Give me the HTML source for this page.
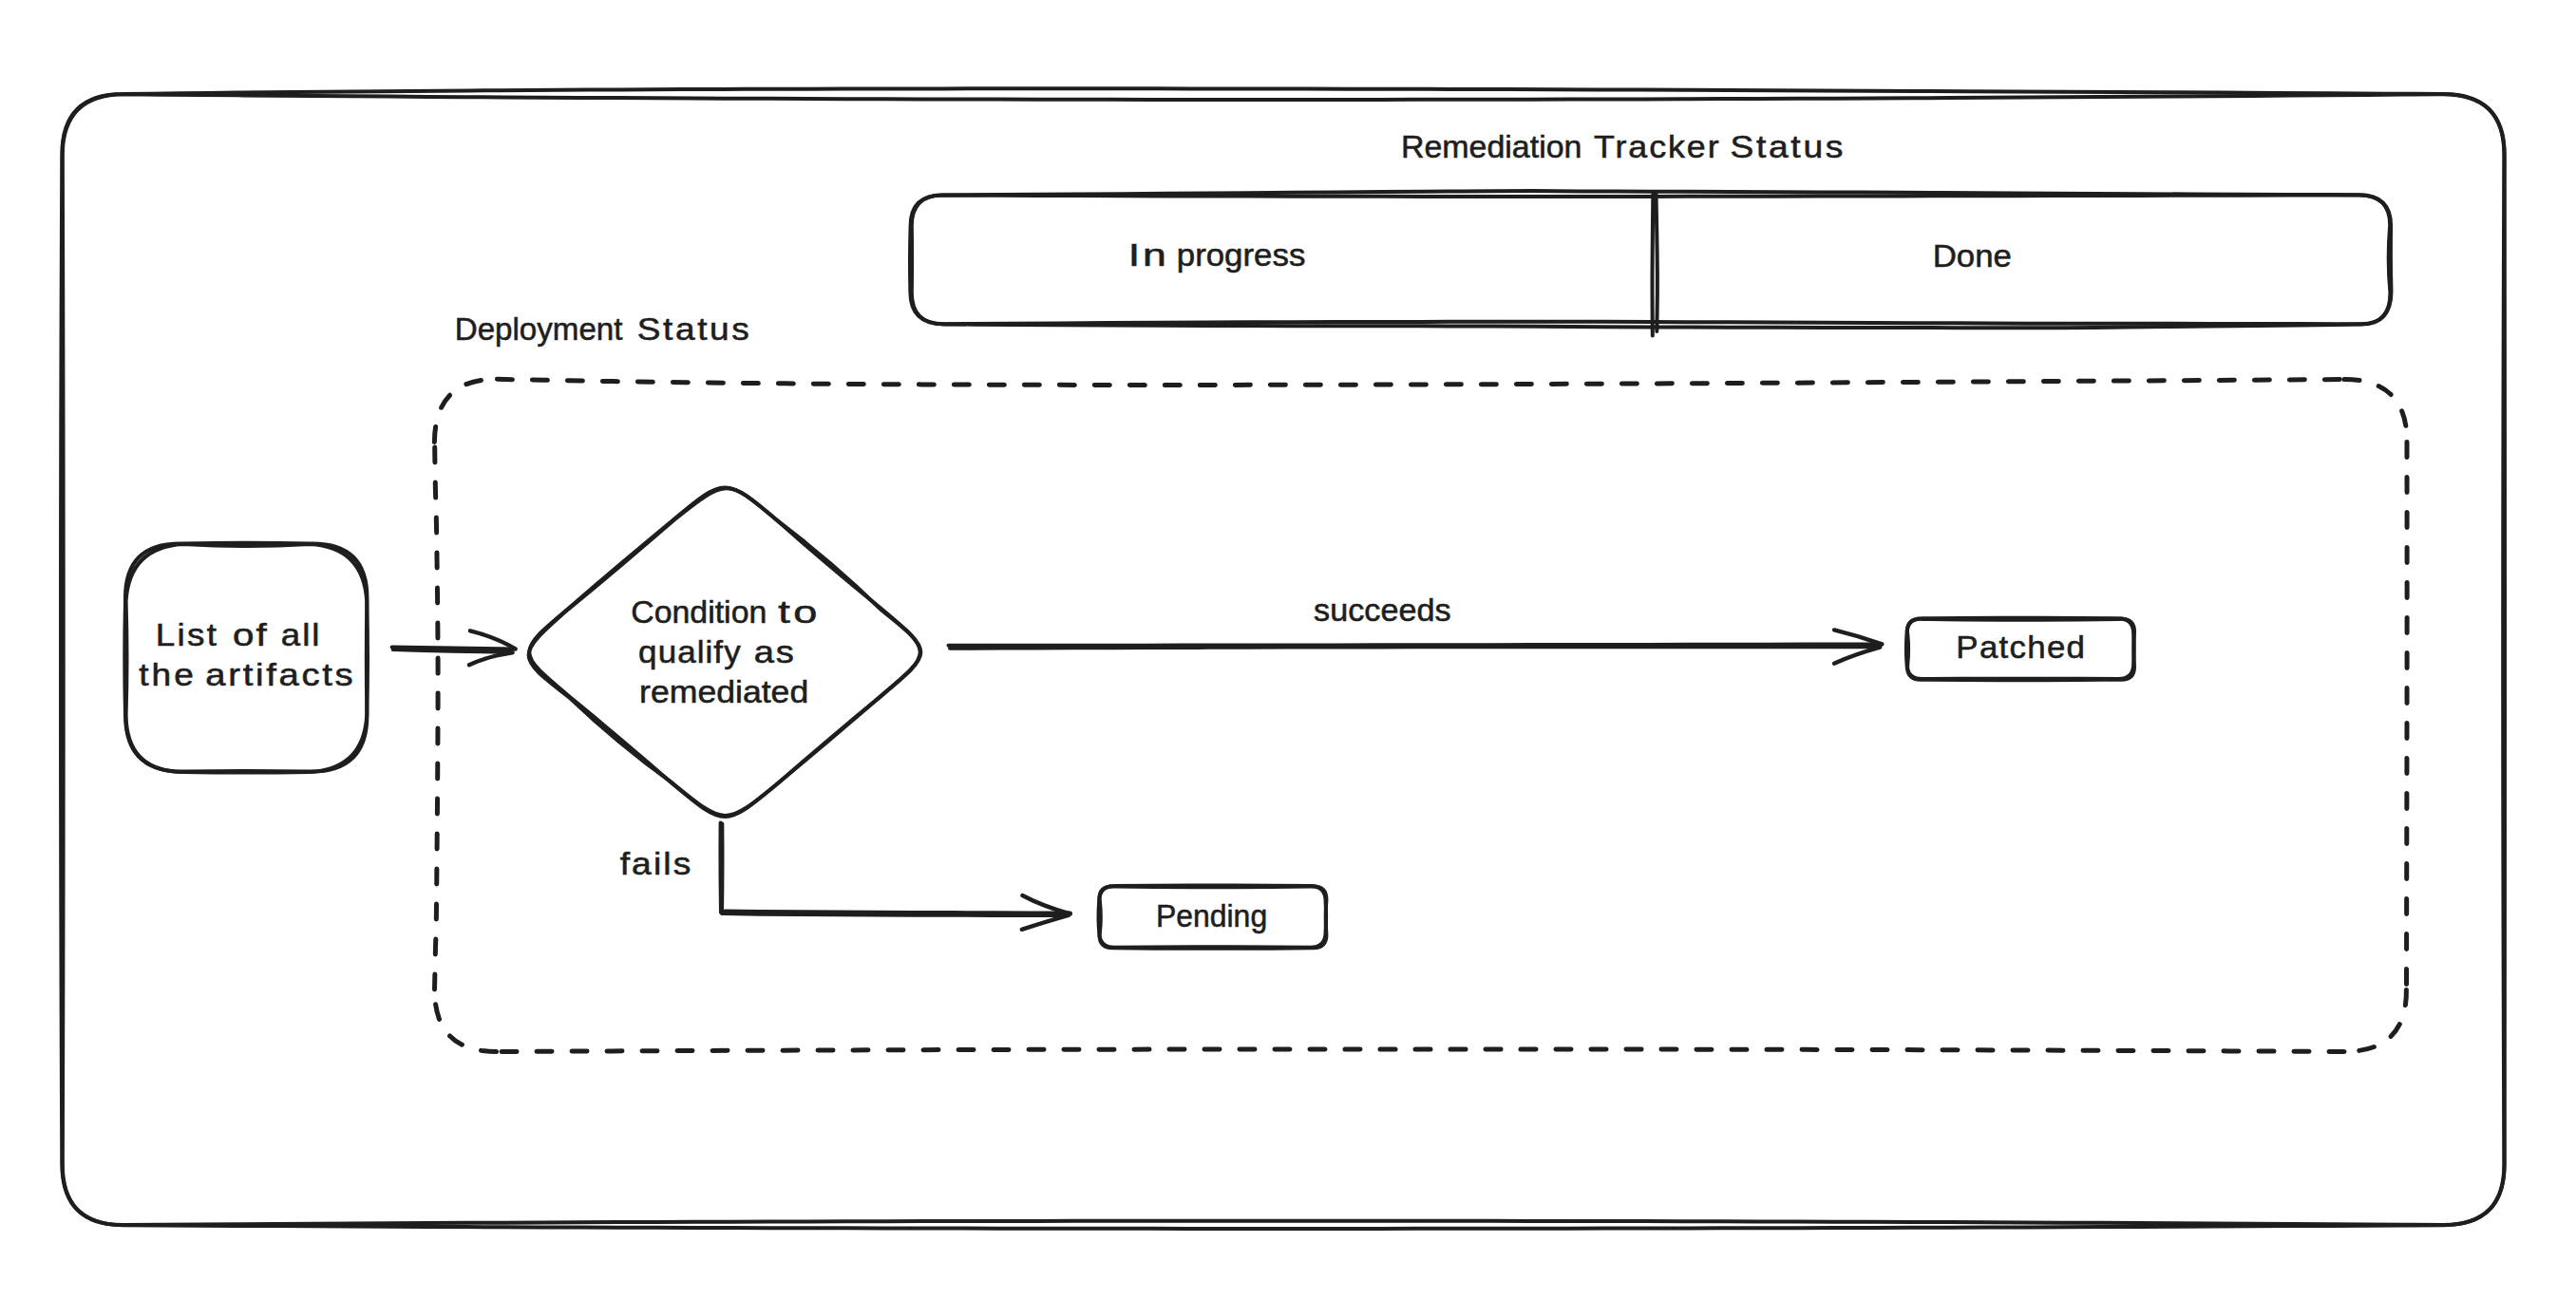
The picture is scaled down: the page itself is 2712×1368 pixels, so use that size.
<!DOCTYPE html>
<html lang="en">
<head>
<meta charset="utf-8">
<title>Remediation Tracker Status</title>
<style>
  html, body { margin: 0; padding: 0; background: #ffffff; }
  body { width: 2712px; height: 1368px; overflow: hidden; }
  svg { display: block; }
  .s { fill: none; stroke: #1e1e1e; stroke-width: 4; stroke-linecap: round; stroke-linejoin: round; }
  .h { fill: none; stroke: #1e1e1e; stroke-width: 4.4; stroke-linecap: round; stroke-linejoin: round; }
  .d { fill: none; stroke: #1e1e1e; stroke-width: 5; stroke-linecap: round; stroke-linejoin: round; stroke-dasharray: 16 21; }
  text { font-family: "Liberation Sans", sans-serif; font-size: 32.5px; fill: #1e1e1e; stroke: #1e1e1e; stroke-width: 0.55px; }
</style>
</head>
<body>
<svg width="2712" height="1368" viewBox="0 0 2712 1368" role="img" aria-label="Remediation tracker status flow diagram">
  <rect x="0" y="0" width="2712" height="1368" fill="#ffffff"/>
  <g id="frame">
    <path class="s" d="M129.5 99 L159.53 98.63 L189.57 98.28 L219.64 97.93 L249.76 97.6 L279.95 97.28 L310.22 96.98 L340.58 96.68 L371.05 96.4 L401.66 96.13 L432.41 95.88 L463.32 95.63 L494.4 95.4 L525.68 95.18 L557.18 94.97 L588.89 94.77 L620.85 94.59 L653.07 94.42 L685.56 94.26 L718.35 94.11 L751.44 93.98 L784.85 93.85 L818.6 93.74 L852.71 93.64 L887.19 93.56 L922.06 93.49 L957.33 93.42 L993.03 93.38 L1029.16 93.34 L1065.74 93.31 L1102.79 93.3 L1140.33 93.3 L1178.37 93.31 L1216.93 93.34 L1256.02 93.38 L1295.66 93.42 L1335.87 93.49 L1376.65 93.56 L1418.04 93.64 L1460.05 93.74 L1502.68 93.85 L1545.96 93.98 L1589.91 94.11 L1634.53 94.26 L1679.86 94.42 L1725.89 94.59 L1772.65 94.77 L1820.16 94.97 L1868.42 95.18 L1917.47 95.4 L1967.31 95.63 L2017.95 95.88 L2069.42 96.13 L2121.74 96.4 L2174.91 96.68 L2228.96 96.98 L2283.89 97.28 L2339.74 97.6 L2396.5 97.93 L2454.21 98.28 L2512.87 98.63 L2572.5 99 Q2636.5 99 2636.4 163 L2636.22 203.88 L2636.06 244.77 L2635.91 285.65 L2635.78 326.54 L2635.65 367.42 L2635.55 408.31 L2635.46 449.19 L2635.38 490.08 L2635.31 530.96 L2635.26 571.85 L2635.23 612.73 L2635.21 653.62 L2635.2 694.5 L2635.21 735.38 L2635.23 776.27 L2635.26 817.15 L2635.31 858.04 L2635.38 898.92 L2635.46 939.81 L2635.55 980.69 L2635.65 1021.58 L2635.78 1062.46 L2635.91 1103.35 L2636.06 1144.23 L2636.22 1185.12 L2636.4 1226 Q2636.5 1290 2572.5 1290 L2532.45 1289.72 L2492.4 1289.45 L2452.35 1289.2 L2412.3 1288.95 L2372.25 1288.71 L2332.2 1288.47 L2292.16 1288.25 L2252.11 1288.04 L2212.06 1287.84 L2172.01 1287.64 L2131.96 1287.46 L2091.91 1287.28 L2051.86 1287.12 L2011.81 1286.96 L1971.76 1286.81 L1931.71 1286.67 L1891.66 1286.54 L1851.61 1286.42 L1811.57 1286.31 L1771.52 1286.21 L1731.47 1286.12 L1691.42 1286.03 L1651.37 1285.96 L1611.32 1285.9 L1571.27 1285.84 L1531.22 1285.79 L1491.17 1285.76 L1451.12 1285.73 L1411.07 1285.71 L1371.02 1285.7 L1330.98 1285.7 L1290.93 1285.71 L1250.88 1285.73 L1210.83 1285.76 L1170.78 1285.79 L1130.73 1285.84 L1090.68 1285.9 L1050.63 1285.96 L1010.58 1286.03 L970.53 1286.12 L930.48 1286.21 L890.43 1286.31 L850.39 1286.42 L810.34 1286.54 L770.29 1286.67 L730.24 1286.81 L690.19 1286.96 L650.14 1287.12 L610.09 1287.28 L570.04 1287.46 L529.99 1287.64 L489.94 1287.84 L449.89 1288.04 L409.84 1288.25 L369.8 1288.47 L329.75 1288.71 L289.7 1288.95 L249.65 1289.2 L209.6 1289.45 L169.55 1289.72 L129.5 1290 Q65.5 1290 65.3 1226 L65.11 1185.12 L64.93 1144.23 L64.77 1103.35 L64.62 1062.46 L64.49 1021.58 L64.38 980.69 L64.28 939.81 L64.19 898.92 L64.12 858.04 L64.07 817.15 L64.03 776.27 L64.01 735.38 L64 694.5 L64.01 653.62 L64.03 612.73 L64.07 571.85 L64.12 530.96 L64.19 490.08 L64.28 449.19 L64.38 408.31 L64.49 367.42 L64.62 326.54 L64.77 285.65 L64.93 244.77 L65.11 203.88 L65.3 163 Q65.3 99 129.5 99"/>
    <path class="s" d="M130.5 99.3 L170.52 99.67 L210.53 100.02 L250.55 100.36 L290.57 100.69 L330.58 101.01 L370.6 101.31 L410.61 101.6 L450.63 101.88 L490.65 102.15 L530.66 102.41 L570.68 102.65 L610.7 102.88 L650.71 103.1 L690.73 103.31 L730.75 103.5 L770.76 103.69 L810.78 103.86 L850.8 104.01 L890.81 104.16 L930.83 104.29 L970.84 104.41 L1010.86 104.52 L1050.88 104.62 L1090.89 104.7 L1130.91 104.77 L1170.93 104.83 L1210.94 104.88 L1250.96 104.92 L1290.98 104.94 L1330.99 104.95 L1371.01 104.95 L1411.02 104.93 L1451.04 104.91 L1491.06 104.87 L1531.07 104.82 L1571.09 104.76 L1611.11 104.68 L1651.12 104.59 L1691.14 104.49 L1731.16 104.38 L1771.17 104.26 L1811.19 104.12 L1851.2 103.97 L1891.22 103.81 L1931.24 103.64 L1971.25 103.45 L2011.27 103.25 L2051.29 103.04 L2091.3 102.82 L2131.32 102.59 L2171.34 102.34 L2211.35 102.08 L2251.37 101.81 L2291.39 101.53 L2331.4 101.23 L2371.42 100.92 L2411.43 100.6 L2451.45 100.27 L2491.47 99.93 L2531.48 99.57 L2571.5 99.2 Q2636.9 99.4 2636.7 163 L2636.74 203.88 L2636.79 244.77 L2636.82 285.65 L2636.86 326.54 L2636.89 367.42 L2636.91 408.31 L2636.94 449.19 L2636.96 490.08 L2636.97 530.96 L2636.98 571.85 L2636.99 612.73 L2637 653.62 L2637 694.5 L2637 735.38 L2636.99 776.27 L2636.98 817.15 L2636.97 858.04 L2636.96 898.92 L2636.94 939.81 L2636.91 980.69 L2636.89 1021.58 L2636.86 1062.46 L2636.82 1103.35 L2636.79 1144.23 L2636.74 1185.12 L2636.7 1226 Q2636.8 1290.3 2572.5 1290.2 L2532.45 1290.44 L2492.4 1290.67 L2452.35 1290.89 L2412.3 1291.11 L2372.25 1291.31 L2332.2 1291.51 L2292.16 1291.7 L2252.11 1291.89 L2212.06 1292.06 L2172.01 1292.23 L2131.96 1292.39 L2091.91 1292.54 L2051.86 1292.68 L2011.81 1292.82 L1971.76 1292.94 L1931.71 1293.06 L1891.66 1293.18 L1851.61 1293.28 L1811.57 1293.37 L1771.52 1293.46 L1731.47 1293.54 L1691.42 1293.61 L1651.37 1293.68 L1611.32 1293.73 L1571.27 1293.78 L1531.22 1293.82 L1491.17 1293.85 L1451.12 1293.88 L1411.07 1293.89 L1371.02 1293.9 L1330.98 1293.9 L1290.93 1293.89 L1250.88 1293.88 L1210.83 1293.85 L1170.78 1293.82 L1130.73 1293.78 L1090.68 1293.73 L1050.63 1293.68 L1010.58 1293.61 L970.53 1293.54 L930.48 1293.46 L890.43 1293.37 L850.39 1293.28 L810.34 1293.18 L770.29 1293.06 L730.24 1292.94 L690.19 1292.82 L650.14 1292.68 L610.09 1292.54 L570.04 1292.39 L529.99 1292.23 L489.94 1292.06 L449.89 1291.89 L409.84 1291.7 L369.8 1291.51 L329.75 1291.31 L289.7 1291.11 L249.65 1290.89 L209.6 1290.67 L169.55 1290.44 L129.5 1290.2 Q65.7 1290.3 65.8 1226 L65.93 1185.12 L66.06 1144.23 L66.17 1103.35 L66.27 1062.46 L66.36 1021.58 L66.44 980.69 L66.51 939.81 L66.57 898.92 L66.61 858.04 L66.65 817.15 L66.68 776.27 L66.69 735.38 L66.7 694.5 L66.69 653.62 L66.68 612.73 L66.65 571.85 L66.61 530.96 L66.57 490.08 L66.51 449.19 L66.44 408.31 L66.36 367.42 L66.27 326.54 L66.17 285.65 L66.06 244.77 L65.93 203.88 L65.8 163 Q66 99.5 130.5 99.3"/>
  </g>
  <g id="tracker">
    <path class="s" d="M992 205.4 L1017.12 205.23 L1050.98 205.01 L1091.31 204.74 L1135.84 204.44 L1182.31 204.13 L1228.45 203.81 L1272 203.5 L1315.42 203.17 L1361.54 202.79 L1408.66 202.4 L1455.07 202.02 L1499.07 201.67 L1538.95 201.39 L1573 201.2 L1613.87 201.1 L1639.06 201.19 L1662.98 201.39 L1700 201.6 L1735.81 201.73 L1777.37 201.87 L1822.62 202.04 L1869.52 202.21 L1916 202.4 L1960 202.6 L2001.31 202.81 L2041.52 203.04 L2081.31 203.29 L2121.37 203.53 L2162.37 203.77 L2205 204 L2252.76 204.23 L2305.81 204.46 L2359.81 204.69 L2410.41 204.9 L2453.25 205.07 L2484 205.2 Q2516.1 205.3 2516.2 237 L2515.05 254.75 L2514.7 272.5 L2515.15 290.25 L2516.4 308 Q2516.6 341.4 2486 341.2 L2459.12 341.15 L2421.24 341.08 L2376.31 341 L2328.28 340.92 L2281.09 340.84 L2238.68 340.76 L2205 340.7 L2170.99 340.66 L2154.06 340.66 L2134.85 340.63 L2094 340.5 L2060.1 340.37 L2018.2 340.19 L1970.83 339.98 L1920.5 339.75 L1869.73 339.52 L1821.05 339.31 L1776.96 339.13 L1740 339 L1688.24 338.84 L1653.19 338.76 L1619.79 338.76 L1573 338.8 L1536.83 338.84 L1496.1 338.91 L1452.17 338.98 L1406.42 339.08 L1360.23 339.2 L1314.97 339.34 L1272 339.5 L1221.12 339.75 L1167.33 340.06 L1114.19 340.39 L1065.22 340.72 L1023.98 341 L994 341.2 Q958.6 341.4 958.4 308 L958.07 290.5 L958 273 L958.17 255.5 L958.6 238 Q958.6 205.3 992 205.4"/>
    <path class="s" d="M992 205.6 L1017.12 205.68 L1050.98 205.8 L1091.31 205.94 L1135.84 206.1 L1182.31 206.25 L1228.45 206.38 L1272 206.5 L1315.42 206.6 L1361.54 206.69 L1408.66 206.77 L1455.07 206.84 L1499.07 206.91 L1538.95 206.96 L1573 207 L1613.87 207.05 L1639.06 207.06 L1662.98 207.05 L1700 207 L1735.81 206.95 L1777.37 206.87 L1822.62 206.78 L1869.52 206.69 L1916 206.59 L1960 206.5 L2001.31 206.42 L2041.52 206.34 L2081.31 206.26 L2121.37 206.17 L2162.37 206.09 L2205 206 L2252.76 205.9 L2305.81 205.79 L2359.81 205.67 L2410.41 205.56 L2453.25 205.47 L2484 205.4 Q2517.2 205.6 2517.1 238 L2516.9 255.25 L2516.9 272.5 L2517.1 289.75 L2517.5 307 Q2517.2 341.7 2486 341.6 L2459.12 341.92 L2421.24 342.39 L2376.31 342.94 L2328.28 343.52 L2281.09 344.08 L2238.68 344.56 L2205 344.9 L2170.99 345.21 L2154.06 345.3 L2134.85 345.27 L2094 345.2 L2060.1 345.16 L2018.2 345.1 L1970.83 345.02 L1920.5 344.93 L1869.73 344.83 L1821.05 344.72 L1776.96 344.61 L1740 344.5 L1688.24 344.26 L1653.19 343.99 L1619.79 343.72 L1573 343.5 L1536.83 343.41 L1496.1 343.35 L1452.17 343.3 L1406.42 343.26 L1360.23 343.2 L1314.97 343.12 L1272 343 L1221.12 342.79 L1167.33 342.52 L1114.19 342.22 L1065.22 341.93 L1023.98 341.67 L994 341.5 Q959.8 341.6 959.8 308 L960.03 290.5 L960.1 273 L960.02 255.5 L959.8 238 Q959.8 205.7 992 205.6"/>
    <path class="s" d="M1740.3 204.5 L1740.13 220.38 L1739.88 243.28 L1739.64 268.17 L1739.5 290 L1739.5 308.91 L1739.6 327.09 L1739.72 342.61 L1739.8 353.5"/>
    <path class="s" d="M1743.5 204.5 L1743.8 220.48 L1744.24 243.56 L1744.66 268.48 L1744.9 290 L1744.88 308 L1744.69 324.84 L1744.45 339.02 L1744.3 349"/>
  </g>
  <g id="deploy">
    <path class="d" d="M523.4 399.3 L547.63 399.8 L571.91 400.27 L596.28 400.72 L620.78 401.16 L645.45 401.57 L670.33 401.96 L695.48 402.33 L720.92 402.68 L746.7 403.01 L772.86 403.32 L799.45 403.61 L826.51 403.87 L854.08 404.12 L882.2 404.34 L910.92 404.55 L940.27 404.73 L970.3 404.89 L1001.05 405.03 L1032.56 405.15 L1064.88 405.25 L1098.05 405.33 L1132.1 405.39 L1167.09 405.42 L1203.05 405.44 L1240.03 405.43 L1278.06 405.4 L1317.2 405.36 L1357.48 405.29 L1398.94 405.2 L1441.63 405.09 L1485.59 404.96 L1530.87 404.8 L1577.49 404.63 L1625.51 404.44 L1674.97 404.22 L1725.91 403.98 L1778.37 403.73 L1832.4 403.45 L1888.03 403.15 L1945.32 402.83 L2004.29 402.48 L2065 402.12 L2127.48 401.74 L2191.78 401.33 L2257.94 400.91 L2326 400.46 L2396.01 399.99 L2468 399.5"/>
    <path class="d" d="M2468 399.5 Q2534.5 399.5 2534 465.5"/>
    <path class="d" d="M2534 465.5 L2534.02 494.03 L2534.07 533.14 L2534.11 580.42 L2534.12 633.51 L2534.1 690 L2534.05 730.1 L2533.99 776.78 L2533.9 827.27 L2533.81 878.78 L2533.71 928.54 L2533.62 973.77 L2533.55 1011.68 L2533.5 1039.5"/>
    <path class="d" d="M2533.4 1042.5 Q2534 1107.3 2468 1107.5"/>
    <path class="d" d="M2468 1107.5 L2427.47 1107.29 L2386.94 1107.08 L2346.41 1106.89 L2305.87 1106.71 L2265.34 1106.53 L2224.81 1106.36 L2184.28 1106.2 L2143.75 1106.06 L2103.22 1105.92 L2062.69 1105.78 L2022.16 1105.66 L1981.62 1105.55 L1941.09 1105.45 L1900.56 1105.35 L1860.03 1105.27 L1819.5 1105.19 L1778.97 1105.12 L1738.44 1105.06 L1697.91 1105.01 L1657.37 1104.97 L1616.84 1104.94 L1576.31 1104.92 L1535.78 1104.9 L1495.25 1104.9 L1454.72 1104.9 L1414.19 1104.92 L1373.66 1104.94 L1333.12 1104.97 L1292.59 1105.01 L1252.06 1105.06 L1211.53 1105.12 L1171 1105.19 L1130.47 1105.27 L1089.94 1105.35 L1049.41 1105.45 L1008.88 1105.55 L968.34 1105.66 L927.81 1105.78 L887.28 1105.92 L846.75 1106.06 L806.22 1106.2 L765.69 1106.36 L725.16 1106.53 L684.62 1106.71 L644.09 1106.89 L603.56 1107.08 L563.03 1107.29 L522.5 1107.5"/>
    <path class="d" d="M522.5 1107.5 Q457.5 1107.5 457.5 1042"/>
    <path class="d" d="M457.5 1042 L457.68 1033.68 L457.94 1021.69 L458.23 1008.6 L458.5 997 L458.72 990.52 L458.93 986.81 L459.14 979.45 L459.4 962 L459.74 929.45 L460.14 886.31 L460.52 840.52 L460.8 800 L460.97 767.05 L461.07 737.38 L461.09 709.02 L461 680 L460.76 648.24 L460.39 615.31 L459.97 584.73 L459.6 560 L459.27 543.24 L458.95 532.19 L458.65 523.79 L458.4 515 L458.2 505.05 L458.03 495.56 L457.9 487.04 L457.8 480 L457.74 474.7 L457.71 470.81 L457.71 468.02 L457.7 466"/>
    <path class="d" d="M457.4 465.4 Q458 399.5 522 399.3"/>
  </g>
  <g id="listbox">
    <path class="s" d="M192 572.5 L225.6 571.9 L259.2 571.7 L292.8 571.9 L326.4 572.5 Q387.9 571 386.4 632.5 L385.95 662.52 L385.8 692.55 L385.95 722.58 L386.4 752.6 Q386.9 813.1 326.4 812.6 L292.8 812.23 L259.2 812.1 L225.6 812.23 L192 812.6 Q132 812.6 132 752.6 L131.47 722.58 L131.3 692.55 L131.47 662.52 L132 632.5 Q130.5 571 192 572.5"/>
    <path class="s" d="M192.6 573.1 L226 574.6 L259.4 575.1 L292.8 574.6 L326.2 573.1 Q382.7 576.1 386.2 633.1 L386.8 663.08 L387 693.05 L386.8 723.02 L386.2 753 Q383.2 810 326.2 813 L292.8 813.45 L259.4 813.6 L226 813.45 L192.6 813 Q133.1 812.5 132.6 753 L133.28 723.02 L133.5 693.05 L133.27 663.08 L132.6 633.1 Q136.1 576.6 192.6 573.1"/>
  </g>
  <g id="diamond">
    <path class="s" d="M818.2 548 L845.14 571.65 L872.34 594.99 L899.79 618.02 L927.5 640.75 C982.5 686.75 982.5 686.75 927.5 732.75 L900.37 756.17 L873.11 779.43 L845.72 802.54 L818.2 825.5 C763.2 871.5 763.2 871.5 708.2 825.5 L681.02 802.02 L653.67 778.74 L626.17 755.65 L598.5 732.75 C543.5 686.75 543.5 686.75 598.5 640.75 L625.73 617.33 L653.09 594.07 L680.58 570.96 L708.2 548 C763.2 502 763.2 502 818.2 548"/>
    <path class="s" d="M818.6 548.4 L846.76 570.43 L874.21 593.31 L900.96 617.03 L927 641.6 C983.5 686.6 983.5 686.6 927 733.6 L899.61 756.15 L872.42 778.94 L845.41 801.95 L818.6 825.2 C763.6 870.2 763.6 870.2 708.6 825.2 L679.85 803.68 L651.86 781.24 L624.65 757.88 L598.2 733.6 C542.7 690.6 542.7 690.6 598.2 641.6 L626.04 618.59 L653.72 595.38 L681.24 571.99 L708.6 548.4 C765.6 502.9 765.6 502.9 818.6 548.4"/>
  </g>
  <g id="arrows">
    <path class="s" d="M412.6 681.6 L445 681.95 L477.4 682.4 L509.8 682.95 L542.2 683.6"/>
    <path class="s" d="M413.8 684.1 L445.23 684.9 L476.65 685.65 L508.08 686.35 L539.5 687"/>
    <path class="h" d="M542.6 683.3 Q521.5 670.8 495 664.3"/>
    <path class="h" d="M539.5 687.4 Q513 691.2 494 700.2"/>
    <path class="s" d="M998.5 679.8 L1039.45 679.77 L1080.4 679.74 L1121.35 679.71 L1162.3 679.68 L1203.25 679.64 L1244.2 679.6 L1285.15 679.56 L1326.1 679.51 L1367.05 679.46 L1408 679.41 L1448.95 679.36 L1489.9 679.3 L1530.85 679.24 L1571.8 679.18 L1612.75 679.11 L1653.7 679.04 L1694.65 678.97 L1735.6 678.9 L1776.55 678.82 L1817.5 678.74 L1858.45 678.66 L1899.4 678.58 L1940.35 678.49 L1981.3 678.4"/>
    <path class="s" d="M1000 682.8 L1023.71 682.72 L1053.36 682.61 L1088.13 682.49 L1127.18 682.34 L1169.67 682.19 L1214.76 682.03 L1261.61 681.88 L1309.4 681.73 L1357.29 681.6 L1404.43 681.49 L1450 681.4 L1489.55 681.34 L1532.33 681.3 L1577.52 681.27 L1624.28 681.24 L1671.79 681.23 L1719.21 681.22 L1765.71 681.21 L1810.47 681.21 L1852.65 681.21 L1891.42 681.21 L1925.96 681.21 L1955.43 681.21 L1979 681.2"/>
    <path class="h" d="M1981.3 678.3 Q1957 669.8 1931 663.4"/>
    <path class="h" d="M1979.2 681.7 Q1953 689 1931 698.7"/>
    <path class="s" d="M758.6 866.5 L758.47 890.12 L758.5 913.75 L758.68 937.38 L759 961 L759 959.6 L799.87 959.9 L840.73 960.18 L881.6 960.44 L922.47 960.69 L963.33 960.91 L1004.2 961.11 L1045.07 961.29 L1085.93 961.46 L1126.8 961.6"/>
    <path class="s" d="M760.3 867.5 L760.45 891.12 L760.45 914.75 L760.3 938.38 L760 962 L800.5 962.87 L841 963.12 L881.5 963.33 L922 963.52 L962.5 963.67 L1003 963.8 L1043.5 963.9 L1084 963.96 L1124.5 964"/>
    <path class="h" d="M1126.8 962.4 Q1098 954.5 1076.4 943"/>
    <path class="h" d="M1124.8 963.8 Q1098 971.5 1075.8 978.8"/>
  </g>
  <g id="boxes">
    <path class="s" d="M2023.5 651.3 L2064.84 650.98 L2106.18 650.82 L2147.52 650.82 L2188.86 650.98 L2230.2 651.3 Q2246.2 651.3 2246.2 667.3 L2246.57 675.25 L2246.7 683.2 L2246.57 691.15 L2246.2 699.1 Q2246.2 715.1 2230.2 715.1 L2188.86 714.84 L2147.52 714.72 L2106.18 714.72 L2064.84 714.84 L2023.5 715.1 Q2007.5 715.1 2007.5 699.1 L2007.05 691.15 L2006.9 683.2 L2007.05 675.25 L2007.5 667.3 Q2007.5 651.3 2023.5 651.3"/>
    <path class="s" d="M2024.3 651.9 L2065.62 652.41 L2106.94 652.67 L2148.26 652.67 L2189.58 652.41 L2230.9 651.9 Q2248.4 650.4 2246.9 667.9 L2246.45 675.82 L2246.3 683.75 L2246.45 691.67 L2246.9 699.6 Q2248.4 717.1 2230.9 715.6 L2189.58 716.05 L2148.26 716.27 L2106.94 716.27 L2065.62 716.05 L2024.3 715.6 Q2006.8 717.1 2008.3 699.6 L2008.9 691.68 L2009.1 683.75 L2008.9 675.83 L2008.3 667.9 Q2005.8 650.9 2024.3 651.9"/>
    <path class="s" d="M1173.2 933 L1214.48 932.68 L1255.76 932.52 L1297.04 932.52 L1338.32 932.68 L1379.6 933 Q1395.6 933 1395.6 949 L1395.97 957.17 L1396.1 965.35 L1395.97 973.53 L1395.6 981.7 Q1395.6 997.7 1379.6 997.7 L1338.32 997.44 L1297.04 997.32 L1255.76 997.32 L1214.48 997.44 L1173.2 997.7 Q1157.2 997.7 1157.2 981.7 L1156.67 973.52 L1156.5 965.35 L1156.68 957.17 L1157.2 949 Q1157.2 933 1173.2 933"/>
    <path class="s" d="M1173.9 933.6 L1215.18 934.11 L1256.46 934.37 L1297.74 934.37 L1339.02 934.11 L1380.3 933.6 Q1397.8 932.1 1396.3 949.6 L1395.85 957.75 L1395.7 965.9 L1395.85 974.05 L1396.3 982.2 Q1397.8 999.7 1380.3 998.2 L1339.02 998.65 L1297.74 998.87 L1256.46 998.87 L1215.18 998.65 L1173.9 998.2 Q1155.9 999.7 1157.9 982.2 L1158.58 974.05 L1158.8 965.9 L1158.58 957.75 L1157.9 949.6 Q1155.4 932.1 1173.9 933.6"/>
  </g>
  <g id="labels">
    <text y="166"><tspan x="1474.95" textLength="190.47" lengthAdjust="spacingAndGlyphs">Remediation</tspan> <tspan x="1678.08" textLength="133.43" lengthAdjust="spacingAndGlyphs" letter-spacing="1.73">Tracker</tspan> <tspan x="1821.45" textLength="121.63" lengthAdjust="spacingAndGlyphs" letter-spacing="2.35">Status</tspan></text>
    <text y="279.6"><tspan x="1187.73" textLength="43.05" lengthAdjust="spacingAndGlyphs" letter-spacing="2.14">In</tspan> <tspan x="1238.75" textLength="135.56" lengthAdjust="spacingAndGlyphs">progress</tspan></text>
    <text y="280.6"><tspan x="2034.66" textLength="83.25" lengthAdjust="spacingAndGlyphs">Done</tspan></text>
    <text y="358.2"><tspan x="478.8" textLength="176.59" lengthAdjust="spacingAndGlyphs">Deployment</tspan> <tspan x="670.75" textLength="120.66" lengthAdjust="spacingAndGlyphs" letter-spacing="2.3">Status</tspan></text>
    <text y="680"><tspan x="163.77" textLength="66.44" lengthAdjust="spacingAndGlyphs" letter-spacing="2.04">List</tspan> <tspan x="245.04" textLength="37.82" lengthAdjust="spacingAndGlyphs" letter-spacing="1.66">of</tspan> <tspan x="295.87" textLength="42.63" lengthAdjust="spacingAndGlyphs" letter-spacing="1.75">all</tspan></text>
    <text y="722"><tspan x="146.24" textLength="60.72" lengthAdjust="spacingAndGlyphs" letter-spacing="2.66">the</tspan> <tspan x="216.37" textLength="157.96" lengthAdjust="spacingAndGlyphs" letter-spacing="2.29">artifacts</tspan></text>
    <text y="655.8"><tspan x="664.3" textLength="142.98" lengthAdjust="spacingAndGlyphs">Condition</tspan> <tspan x="819.17" textLength="44.82" lengthAdjust="spacingAndGlyphs" letter-spacing="2.58">to</tspan></text>
    <text y="697.8"><tspan x="672.12" textLength="108.59" lengthAdjust="spacingAndGlyphs" letter-spacing="0.99">qualify</tspan> <tspan x="793.77" textLength="43.7" lengthAdjust="spacingAndGlyphs" letter-spacing="1.46">as</tspan></text>
    <text y="740.4"><tspan x="673.07" textLength="178.17" lengthAdjust="spacingAndGlyphs">remediated</tspan></text>
    <text y="654"><tspan x="1383.09" textLength="144.47" lengthAdjust="spacingAndGlyphs">succeeds</tspan></text>
    <text y="920.6"><tspan x="652.69" textLength="76.65" lengthAdjust="spacingAndGlyphs" letter-spacing="1.85">fails</tspan></text>
    <text y="692.6"><tspan x="2059.37" textLength="136.87" lengthAdjust="spacingAndGlyphs" letter-spacing="1.2">Patched</tspan></text>
    <text y="976.4"><tspan x="1216.94" textLength="117.21" lengthAdjust="spacingAndGlyphs">Pending</tspan></text>
  </g>
</svg>
</body>
</html>
